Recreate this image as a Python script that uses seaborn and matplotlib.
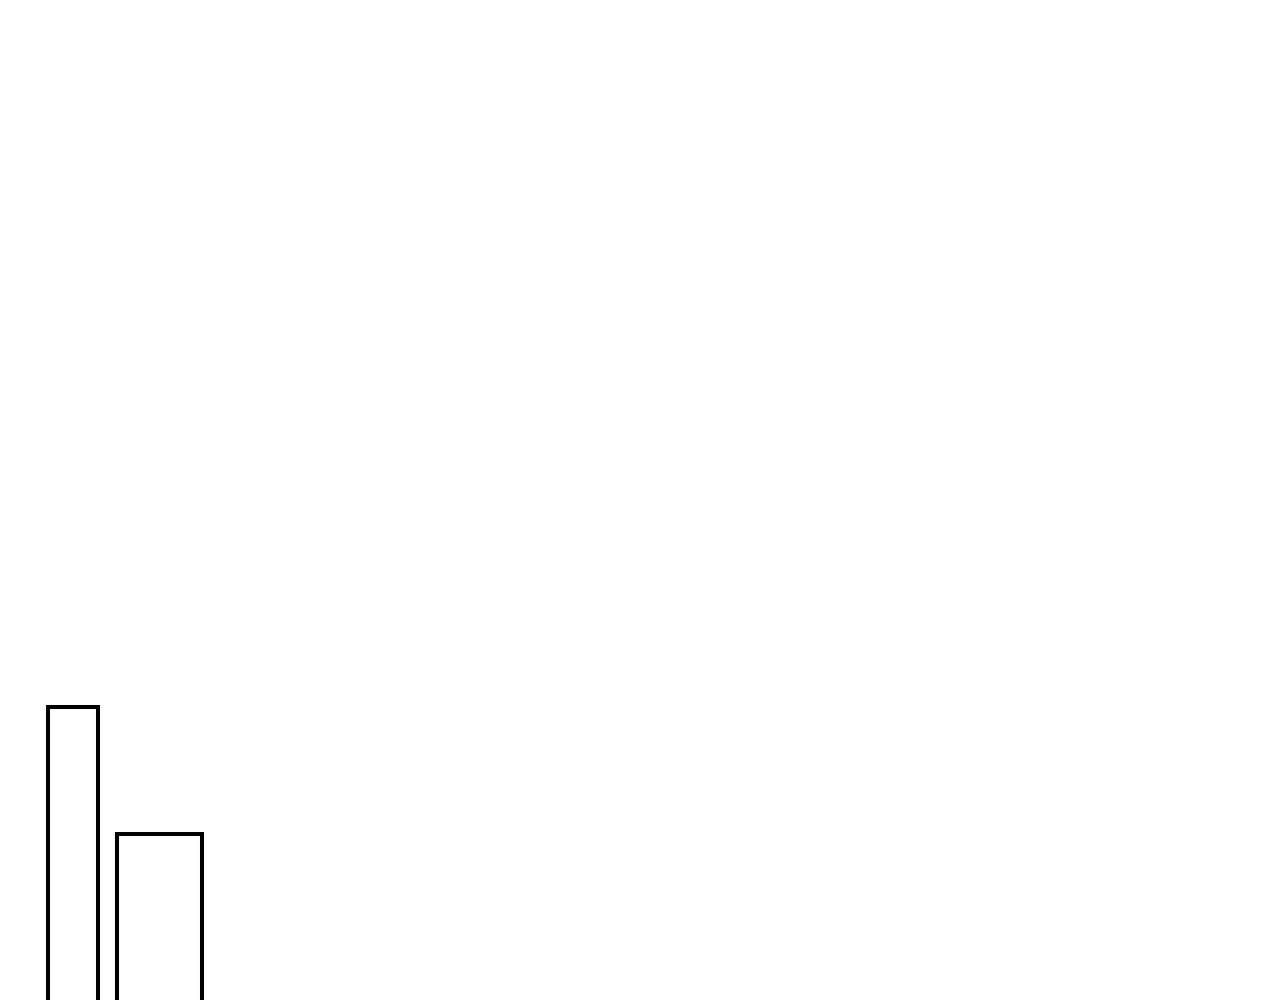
import numpy as np
import matplotlib
matplotlib.use("Agg")
import matplotlib.pyplot as plt
import seaborn as sns

# two outlined bars, heights (7 : 4)
bar_names = ["first", "second"]
bar_values = [7, 4]

# layout: bin edges in pixel-like x units, gap between the two bars
bin_edges = [47.5, 97.5, 117, 202]
bin_mids = [72.5, 159.5]

sns.set_theme(style="white")

fig = plt.figure(figsize=(12.8, 10), dpi=100)
ax = fig.add_axes([0, 0, 1, 1])

sns.histplot(x=bin_mids, weights=bar_values, bins=bin_edges, stat="count",
             fill=False, color="black", linewidth=2.9, ax=ax)

ax.set_xlim(0, 1280)
# y limits start a bit above zero so the bars' bottom edge is cut off
lo = 0.1
ax.set_ylim(lo, lo + 1000 * (bar_values[0] - lo) / 293)
ax.axis("off")

fig.savefig("out.png", dpi=100, facecolor="white")
